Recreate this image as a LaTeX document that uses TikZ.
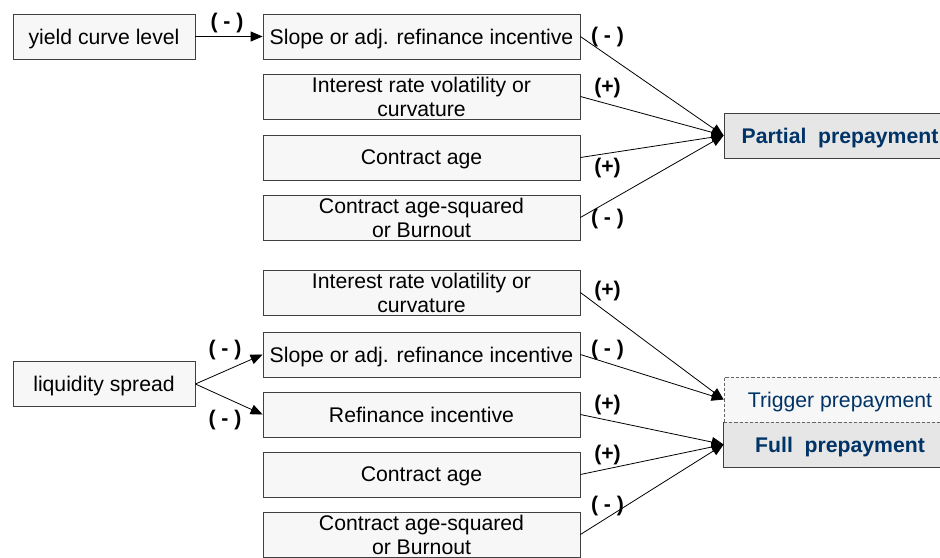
\documentclass[tikz,border=0pt]{standalone}
\usepackage{fontspec}
\setmainfont{Liberation Sans}
\usetikzlibrary{positioning,arrows.meta}

\definecolor{boxfill}{RGB}{247,247,247}
\definecolor{outfill}{RGB}{230,230,230}
\definecolor{boxline}{RGB}{64,64,64}
\definecolor{outtext}{RGB}{0,51,102}

\tikzset{
  factor/.style={draw=boxline, fill=boxfill, minimum width=158.5pt, minimum height=22.5pt,
    inner sep=0pt, align=center, font=\fontsize{10.6}{12}\selectfont},
  oneline/.style={text depth=0pt},
  driver/.style={factor, oneline, minimum width=91pt},
  outcome/.style={factor, oneline, minimum width=116pt, fill=outfill, text=outtext,
    font=\bfseries\fontsize{10.6}{12}\selectfont},
  sign/.style={inner sep=0pt, font=\bfseries\fontsize{10.6}{12}\selectfont},
  link/.style={-{Triangle[length=6pt,width=5pt]}, black, line width=0.4pt}
}

\begin{document}
\begin{tikzpicture}[x=0.5pt, y=-0.5pt]
\def\xl{104}
\def\xm{421.5}
\def\xr{840}
\def\xs{607.5}

\useasboundingbox (0,0) rectangle (940,557);
\clip (0,0) rectangle (940,557);

% drivers
\node[driver] (level) at (\xl, 36.5) {yield curve level};
\node[driver] (liq) at (\xl, 384) {liquidity spread};

% partial prepayment block
\node[factor, oneline] (slopea) at (\xm, 36.5) {Slope or adj. refinance incentive};
\node[factor] (vola) at (\xm, 96.5) {Interest rate volatility or\\curvature};
\node[factor, oneline] (agea) at (\xm, 157.5) {Contract age};
\node[factor] (burna) at (\xm, 217.5) {Contract age-squared\\or Burnout};

% full prepayment block
\node[factor] (volb) at (\xm, 292.5) {Interest rate volatility or\\curvature};
\node[factor, oneline] (slopeb) at (\xm, 354.5) {Slope or adj. refinance incentive};
\node[factor, oneline] (refi) at (\xm, 414.5) {Refinance incentive};
\node[factor, oneline] (ageb) at (\xm, 474.5) {Contract age};
\node[factor] (burnb) at (\xm, 534.5) {Contract age-squared\\or Burnout};

% outcomes
\node[outcome] (partial) at (\xr, 135.5) {Partial\ \ prepayment};
\node[outcome, draw=none] (full) at (\xr, 444.5) {Full\ \ prepayment};
\draw[boxline] (full.north west) -- (full.south west) -- (full.south east) -- (full.north east);
\node[outcome, fill=boxfill, draw=boxline!80, dash pattern=on 1.6pt off 1pt,
  font=\fontsize{10.6}{12}\selectfont] (trigger) at (\xr, 399.5) {Trigger prepayment};

% links
\draw[link] (level) -- (slopea);
\draw[link] (liq.east) -- (slopeb.west);
\draw[link] (liq.east) -- (refi.west);

\draw[link] (slopea.east) -- (partial.west);
\draw[link] (vola.east) -- (partial.west);
\draw[link] (agea.east) -- (partial.west);
\draw[link] (burna.east) -- (partial.west);

\draw[link] (volb.east) -- (trigger.west);
\draw[link] (slopeb.east) -- (trigger.west);
\draw[link] (refi.east) -- (full.west);
\draw[link] (ageb.east) -- (full.west);
\draw[link] (burnb.east) -- (full.west);

% signs
\node[sign] (sl) at (227, 23.5) {( - )};
\node[sign] (sla) at (225, 350.5) {( - )};
\node[sign] (slb) at (225, 420) {( - )};

\node[sign] (s1) at (\xs, 37.5) {( - )};
\node[sign] (s2) at (\xs, 88) {(+)};
\node[sign] (s3) at (\xs, 168.5) {(+)};
\node[sign] (s4) at (\xs, 219) {( - )};
\node[sign] (s5) at (\xs, 291.5) {(+)};
\node[sign] (s6) at (\xs, 350) {( - )};
\node[sign] (s7) at (\xs, 405) {(+)};
\node[sign] (s8) at (\xs, 455) {(+)};
\node[sign] (s9) at (\xs, 506) {( - )};
\end{tikzpicture}
\end{document}
